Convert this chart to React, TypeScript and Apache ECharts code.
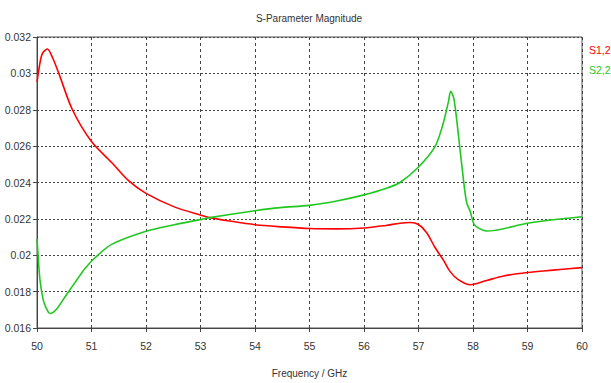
import React, { useEffect, useRef } from "react";
import * as echarts from "echarts";

const title = "S-Parameter Magnitude";
const xName = "Frequency / GHz";
const seriesNames = ["S1,2", "S2,2"];

const s12Freq = [50.0, 50.05, 50.1, 50.19, 50.28, 50.4, 50.65, 51.0, 51.37, 51.68, 52.0, 52.52, 53.0, 53.17, 53.5, 54.0, 54.5, 55.0, 55.5, 56.0, 56.4, 56.66, 56.85, 57.0, 57.15, 57.3, 57.46, 57.58, 57.73, 57.95, 58.25, 58.56, 59.0, 59.47, 60.0];
const s12Val = [0.02952, 0.0305, 0.0311, 0.03134, 0.0309, 0.03, 0.028, 0.02625, 0.0251, 0.0241, 0.0234, 0.02266, 0.02221, 0.02207, 0.0219, 0.02168, 0.02156, 0.02147, 0.02145, 0.0215, 0.02164, 0.02176, 0.0218, 0.02169, 0.02124, 0.02044, 0.01972, 0.0191, 0.01866, 0.01838, 0.01861, 0.01886, 0.01905, 0.01918, 0.01932];

const s22Freq = [50.0, 50.02, 50.055, 50.12, 50.21, 50.25, 50.36, 50.54, 50.73, 50.88, 51.06, 51.37, 52.0, 52.52, 53.0, 53.17, 54.0, 54.46, 55.0, 55.5, 56.0, 56.4, 56.66, 57.0, 57.3, 57.44, 57.55, 57.59, 57.65, 57.73, 57.79, 57.88, 57.95, 58.02, 58.13, 58.25, 59.0, 59.47, 60.0];
const s22Val = [0.0209, 0.02, 0.01864, 0.01748, 0.01686, 0.0168, 0.01704, 0.01783, 0.01864, 0.01927, 0.01985, 0.0206, 0.02132, 0.02168, 0.02196, 0.02207, 0.02245, 0.02262, 0.02274, 0.02298, 0.02332, 0.02367, 0.024, 0.02485, 0.02596, 0.02711, 0.02845, 0.02902, 0.0286, 0.02667, 0.02507, 0.02293, 0.0224, 0.0217, 0.02145, 0.02133, 0.02176, 0.02195, 0.02212];

const colors = ["#ff0000", "#1ec81e"];
const FONT = "'Liberation Sans', Arial, sans-serif";

export default function App() {
  const ref = useRef<HTMLDivElement>(null);
  useEffect(() => {
    document.body.style.margin = "0";
    const chart = echarts.init(ref.current!, null, { renderer: "svg" });
    const pairs = (xs: number[], ys: number[]) => xs.map((x, i) => [x, ys[i]]);
    chart.setOption({
      animation: false,
      backgroundColor: "#ffffff",
      textStyle: { fontFamily: FONT },
      grid: { left: 37, right: 29, top: 37, bottom: 47, show: true, borderColor: "#555", borderWidth: 1 },
      graphic: [
        {
          type: "text",
          x: 309,
          y: 18,
          style: { text: title, fill: "#333", font: `10px ${FONT}`, textAlign: "center", textVerticalAlign: "middle" },
        },
        {
          type: "text",
          x: 589,
          y: 50,
          style: { text: seriesNames[0], fill: colors[0], font: `10.5px ${FONT}`, textAlign: "left", textVerticalAlign: "middle" },
        },
        {
          type: "text",
          x: 589,
          y: 70,
          style: { text: seriesNames[1], fill: colors[1], font: `10.5px ${FONT}`, textAlign: "left", textVerticalAlign: "middle" },
        },
      ],
      xAxis: {
        type: "value",
        min: 50,
        max: 60,
        interval: 1,
        name: xName,
        nameLocation: "middle",
        nameGap: 40,
        nameTextStyle: { color: "#333", fontSize: 10, fontFamily: FONT },
        axisLine: { lineStyle: { color: "#444" } },
        axisTick: { show: true, length: 4, lineStyle: { color: "#444" } },
        axisLabel: { color: "#333", fontSize: 10.5, margin: 12, fontFamily: FONT },
        splitLine: { show: true, lineStyle: { color: "#444", type: [3, 3], width: 1 } },
      },
      yAxis: {
        type: "value",
        min: 0.016,
        max: 0.032,
        interval: 0.002,
        axisLine: { show: true, lineStyle: { color: "#444" } },
        axisTick: { show: true, length: 4, lineStyle: { color: "#444" } },
        axisLabel: {
          color: "#333",
          fontSize: 10.5,
          margin: 6,
          fontFamily: FONT,
          formatter: (v: number) => String(parseFloat(v.toFixed(3))),
        },
        splitLine: { show: true, lineStyle: { color: "#444", type: [2, 2], width: 1 } },
      },
      series: [
        {
          name: seriesNames[0],
          type: "line",
          data: pairs(s12Freq, s12Val),
          smooth: 0.3,
          showSymbol: false,
          lineStyle: { color: colors[0], width: 1.6 },
          itemStyle: { color: colors[0] },
        },
        {
          name: seriesNames[1],
          type: "line",
          data: pairs(s22Freq, s22Val),
          smooth: 0.3,
          showSymbol: false,
          lineStyle: { color: colors[1], width: 1.6 },
          itemStyle: { color: colors[1] },
        },
      ],
    });
    return () => chart.dispose();
  }, []);
  return <div ref={ref} style={{ width: 611, height: 383 }} />;
}
